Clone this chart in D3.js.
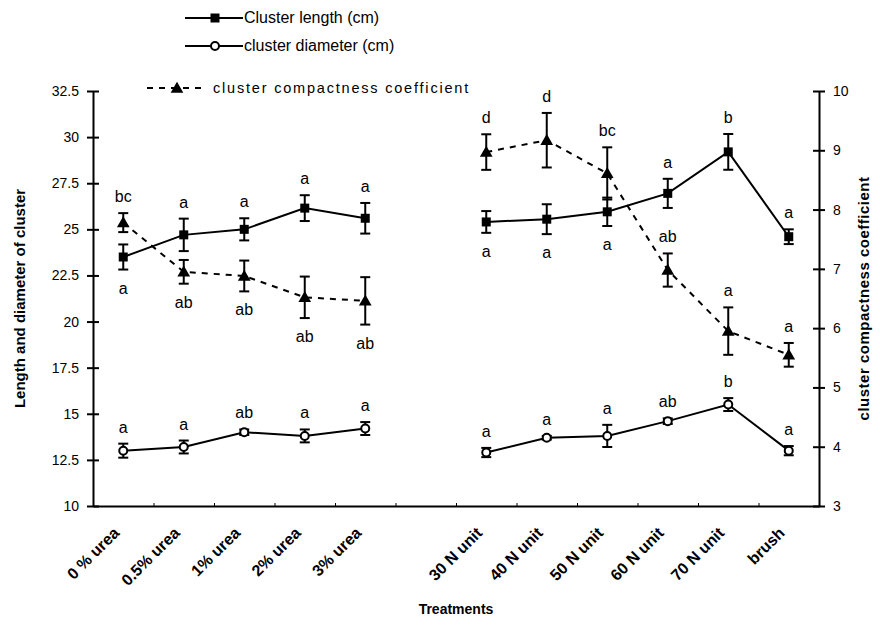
<!DOCTYPE html>
<meta charset="utf-8">
<script src="https://d3js.org/d3.v7.min.js"></script>
<style>
  body { margin: 0; background: #fff; }
  text { font-family: "Liberation Sans", Arial, sans-serif; fill: #000; }
</style>
<body>
<div id="my_visual"></div>
<script>

// treatments along the x axis (a blank slot sits between the two groups)
var categories = ["0 % urea", "0.5% urea", "1% urea", "2% urea", "3% urea",
                  "30 N unit", "40 N unit", "50 N unit", "60 N unit", "70 N unit", "brush"];
var groups = [0, 0, 0, 0, 0, 1, 1, 1, 1, 1, 1];

// cluster length (cm), left axis
var lengthMean = [23.5, 24.7, 25.0, 26.15, 25.6, 25.4, 25.55, 25.95, 26.95, 29.2, 24.6];
var lengthErr  = [0.68, 0.88, 0.6, 0.7, 0.83, 0.59, 0.81, 0.77, 0.79, 0.97, 0.4];
var lengthLetters = ["a", "a", "a", "a", "a", "a", "a", "a", "a", "b", "a"];
var lengthBelow   = [1, 0, 0, 0, 0, 1, 1, 1, 0, 0, 0];

// cluster diameter (cm), left axis
var diamMean = [13.0, 13.2, 14.0, 13.8, 14.2, 12.9, 13.7, 13.8, 14.6, 15.5, 13.0];
var diamErr  = [0.38, 0.35, 0.15, 0.35, 0.35, 0.25, 0.1, 0.6, 0.15, 0.35, 0.25];
var diamLetters = ["a", "a", "ab", "a", "a", "a", "a", "a", "ab", "b", "a"];
var diamBelow   = [0, 0, 0, 0, 0, 0, 0, 0, 0, 0, 0];

// cluster compactness coefficient, right axis
var compMean = [7.78, 6.95, 6.88, 6.52, 6.46, 8.97, 9.17, 8.61, 6.98, 5.95, 5.55];
var compErr  = [0.16, 0.2, 0.26, 0.35, 0.4, 0.3, 0.46, 0.44, 0.28, 0.4, 0.2];
var compLetters = ["bc", "ab", "ab", "ab", "ab", "d", "d", "bc", "ab", "a", "a"];
var compBelow   = [0, 1, 1, 1, 1, 0, 0, 0, 0, 0, 0];

var leftTicks = [10, 12.5, 15, 17.5, 20, 22.5, 25, 27.5, 30, 32.5];
var rightTicks = [3, 4, 5, 6, 7, 8, 9, 10];

var W = 880, H = 633;
var plot = {left: 93, right: 819, top: 91, bottom: 506};

var svg = d3.select("#my_visual")
  .append("svg")
    .attr("width", W)
    .attr("height", H);

// band slots: 5 urea treatments, one empty slot, then the N unit ones
var slots = categories.slice(0, 5).concat(["gap"]).concat(categories.slice(5));
var x = d3.scaleBand()
    .domain(slots)
    .range([plot.left, plot.right]);
function cx(i) { return x(categories[i]) + x.bandwidth() / 2; }

var yL = d3.scaleLinear().domain([10, 32.5]).range([plot.bottom, plot.top]);
var yR = d3.scaleLinear().domain([3, 10]).range([plot.bottom, plot.top]);

// ---- axes ----
var gLeft = svg.append("g")
    .attr("transform", "translate(" + plot.left + ",0)")
    .call(d3.axisLeft(yL).tickValues(leftTicks).tickSize(6).tickSizeOuter(0).tickPadding(8)
          .tickFormat(function(d) { return d; }));
gLeft.selectAll(".tick line").attr("x1", 6).attr("stroke-width", 2);

var gRight = svg.append("g")
    .attr("transform", "translate(" + plot.right + ",0)")
    .call(d3.axisRight(yR).tickValues(rightTicks).tickSize(6).tickSizeOuter(0).tickPadding(8)
          .tickFormat(function(d) { return d; }));
gRight.selectAll(".tick line").attr("x1", -6).attr("stroke-width", 2);

var gBottom = svg.append("g")
    .attr("transform", "translate(0," + plot.bottom + ")")
    .call(d3.axisBottom(x).tickValues(categories).tickSize(0));

// small inner ticks at the slot boundaries on the x axis
var slotEdge = d3.scaleLinear().domain([0, slots.length]).range([plot.left, plot.right]);
svg.append("g")
    .attr("transform", "translate(0," + plot.bottom + ")")
    .call(d3.axisBottom(slotEdge).tickValues(d3.range(1, slots.length)).tickSize(-3).tickFormat(""))
    .select(".domain").remove();

svg.selectAll(".domain").attr("stroke-width", 2);
gLeft.selectAll("text").style("font-size", "14px");
gRight.selectAll("text").style("font-size", "14px");
gBottom.selectAll("text")
    .style("font-size", "16px")
    .style("font-weight", "bold")
    .attr("text-anchor", "end")
    .attr("x", 0)
    .attr("y", 0)
    .attr("dy", "0.35em")
    .attr("transform", "translate(-7,24) rotate(-45)");

// axis titles
svg.append("text")
    .attr("transform", "translate(25," + ((plot.top + plot.bottom) / 2) + ") rotate(-90)")
    .attr("text-anchor", "middle")
    .style("font-size", "15px")
    .style("font-weight", "bold")
    .text("Length and diameter of cluster");

svg.append("text")
    .attr("transform", "translate(869," + ((plot.top + plot.bottom) / 2) + ") rotate(-90)")
    .attr("text-anchor", "middle")
    .style("font-size", "15px")
    .style("font-weight", "bold")
    .style("letter-spacing", "0.5px")
    .text("cluster compactness coefficient");

svg.append("text")
    .attr("x", (plot.left + plot.right) / 2)
    .attr("y", 614)
    .attr("text-anchor", "middle")
    .style("font-size", "14px")
    .style("font-weight", "bold")
    .text("Treatments");

// ---- series ----
var series = [
  {mean: lengthMean, err: lengthErr, letters: lengthLetters, below: lengthBelow, y: yL, marker: "square", dash: null},
  {mean: diamMean, err: diamErr, letters: diamLetters, below: diamBelow, y: yL, marker: "circle", dash: null},
  {mean: compMean, err: compErr, letters: compLetters, below: compBelow, y: yR, marker: "triangle", dash: "6,6"}
];

function drawMarker(g, type, px, py) {
  if (type === "square") {
    g.append("rect").attr("x", px - 4.5).attr("y", py - 4.5)
      .attr("width", 9).attr("height", 9).attr("fill", "#000");
  } else if (type === "circle") {
    g.append("circle").attr("cx", px).attr("cy", py).attr("r", 4)
      .attr("fill", "#fff").attr("stroke", "#000").attr("stroke-width", 2);
  } else {
    g.append("path")
      .attr("d", d3.symbol().type(d3.symbolTriangle).size(70)())
      .attr("transform", "translate(" + px + "," + (py + 1) + ")")
      .attr("fill", "#000");
  }
}

series.forEach(function(s) {
  var g = svg.append("g");
  var line = d3.line()
      .x(function(d) { return cx(d); })
      .y(function(d) { return s.y(s.mean[d]); });

  [0, 1].forEach(function(grp) {
    var idx = d3.range(categories.length).filter(function(i) { return groups[i] === grp; });
    g.append("path")
      .datum(idx)
      .attr("d", line)
      .attr("fill", "none")
      .attr("stroke", "#000")
      .attr("stroke-width", 2)
      .attr("stroke-dasharray", s.dash);
  });

  categories.forEach(function(c, i) {
    var px = cx(i);
    var top = s.y(s.mean[i] + s.err[i]);
    var bot = s.y(s.mean[i] - s.err[i]);
    // error bar
    g.append("line").attr("x1", px).attr("x2", px).attr("y1", top).attr("y2", bot)
      .attr("stroke", "#000").attr("stroke-width", 2);
    [top, bot].forEach(function(yy) {
      g.append("line").attr("x1", px - 5).attr("x2", px + 5).attr("y1", yy).attr("y2", yy)
        .attr("stroke", "#000").attr("stroke-width", 2);
    });
    drawMarker(g, s.marker, px, s.y(s.mean[i]));
    // significance letter
    g.append("text")
      .attr("x", px)
      .attr("y", s.below[i] ? bot + 24 : top - 11)
      .attr("text-anchor", "middle")
      .style("font-size", "16px")
      .text(s.letters[i]);
  });
});

// ---- legend ----
var legendNames = ["Cluster length (cm)", "cluster diameter (cm)", "cluster compactness coefficient"];
var legendY = [18, 46, 88];
var legendX = [185, 185, 147];      // left end of each legend line
var legend = svg.append("g");
legendNames.forEach(function(name, i) {
  var s = series[i];
  var x0 = legendX[i];
  legend.append("line")
    .attr("x1", x0).attr("x2", x0 + 58)
    .attr("y1", legendY[i]).attr("y2", legendY[i])
    .attr("stroke", "#000").attr("stroke-width", 2)
    .attr("stroke-dasharray", s.dash);
  drawMarker(legend, s.marker, x0 + 30, legendY[i]);
  legend.append("text")
    .attr("x", x0 + (i === 2 ? 66 : 59))
    .attr("y", legendY[i] + 5)
    .style("font-size", i === 2 ? "14.5px" : "16px")
    .style("letter-spacing", i === 2 ? "1.8px" : "0px")
    .text(name);
});

</script>
</body>
